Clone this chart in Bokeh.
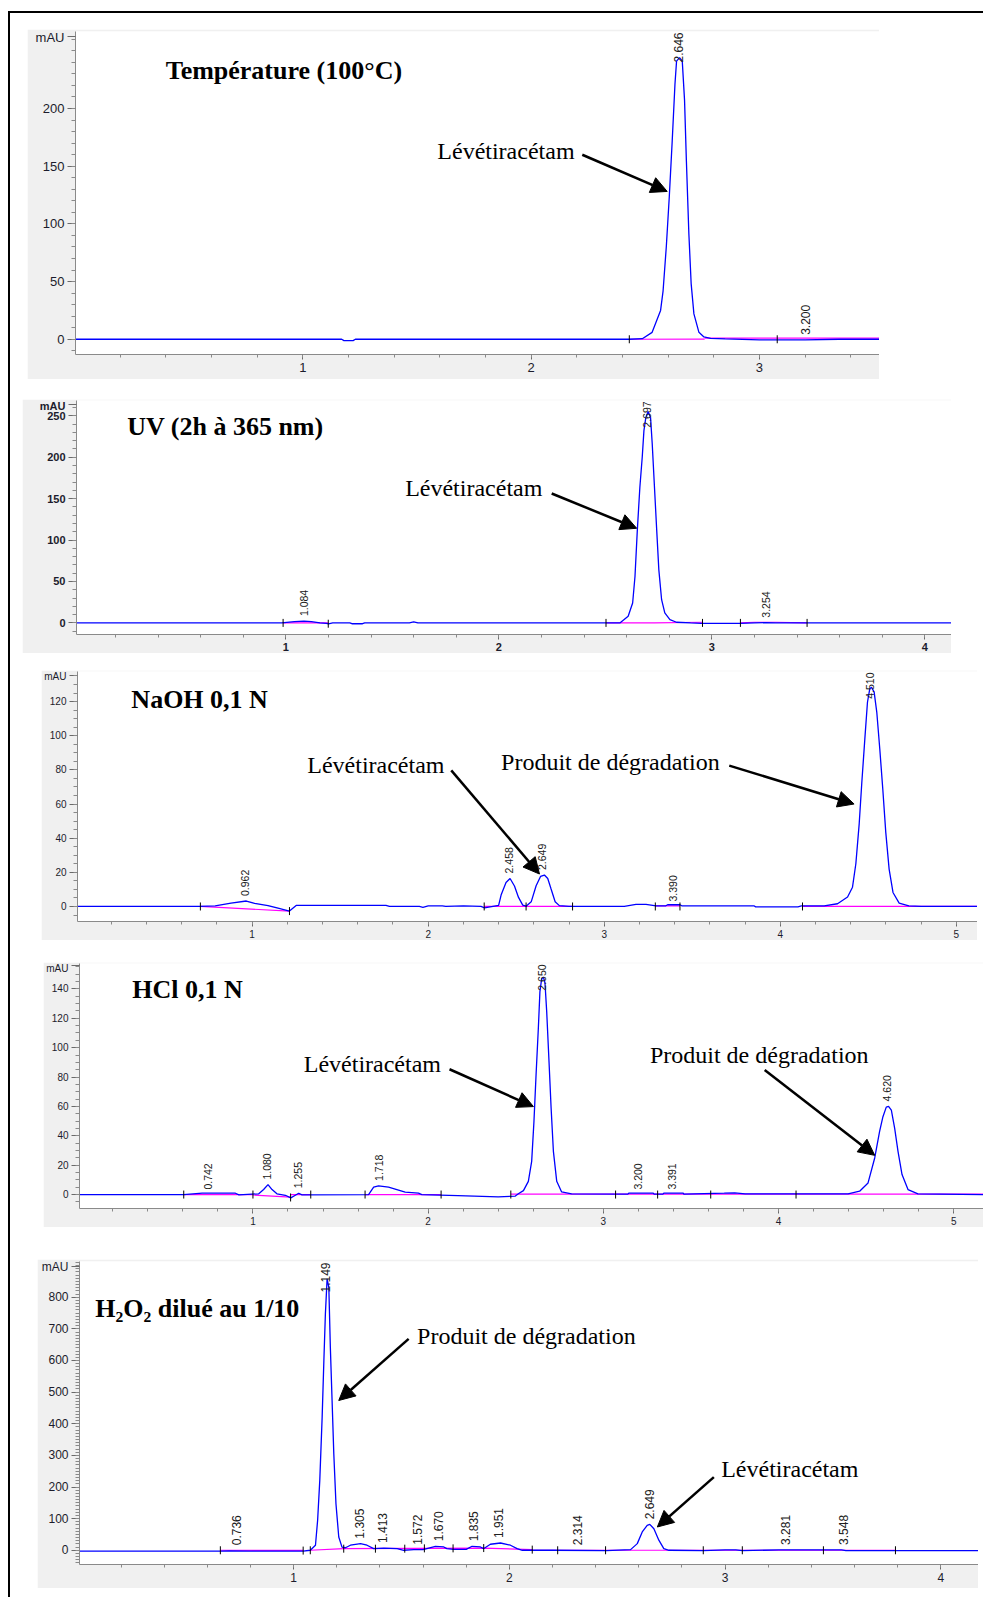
import numpy as np
from bokeh.plotting import figure
from bokeh.layouts import column
from bokeh.models import FixedTicker, Arrow, NormalHead, Range1d
from bokeh.core.properties import value
from bokeh.embed import file_html
from bokeh.resources import INLINE

# ---------------- DATA ----------------
titles = ["Température (100°C)", "UV (2h à 365 nm)", "NaOH 0,1 N", "HCl 0,1 N", "H₂O₂ dilué au 1/10"]
lev = "Lévétiracétam"
deg = "Produit de dégradation"

# Panel 1 : Température
temp_time = [0.0, 1.17, 1.18, 1.22, 1.23, 2.43, 2.487, 2.530, 2.567, 2.578, 2.592, 2.605, 2.618, 2.630,
             2.637, 2.650, 2.662, 2.672, 2.680, 2.691, 2.701, 2.713, 2.735, 2.757, 2.786, 2.85, 3.0, 3.2, 3.35, 3.53]
temp_mau = [0, 0, -1.2, -1.2, 0, 0, 0.5, 6, 25, 42, 80, 123, 172, 221, 241, 244, 241, 207, 155, 91, 48, 22,
            6, 2, 0.8, 0.3, -0.5, -0.5, 0, 0]
temp_base = [([2.43, 2.76], [0.0, 0.2]), ([2.76, 3.53], [1.0, 1.0])]
temp_events_t = [2.43, 3.078]
temp_events_y = [0, 0]
temp_peaks = ["2.646", "3.200"]

# Panel 2 : UV
uv_time = [0.015, 0.98, 1.04, 1.085, 1.12, 1.16, 1.19, 1.20, 1.22, 1.30, 1.31, 1.36, 1.37, 1.58, 1.60, 1.62,
           2.568, 2.607, 2.628, 2.639, 2.650, 2.662, 2.673, 2.681, 2.690, 2.701, 2.712, 2.720, 2.728, 2.741,
           2.751, 2.764, 2.779, 2.803, 2.834, 2.9, 2.95, 3.13, 3.2, 3.254, 3.3, 3.45, 4.125]
uv_mau = [0, 0, 1.5, 2.2, 1.5, 0, -0.5, -1.2, 0, 0, -1, -1, 0, 0, 1.2, 0,
          0, 8, 24, 56, 112, 164, 200, 232, 248, 255, 248, 216, 176, 112,
          64, 28, 12, 4, 0.8, 0, -0.5, -0.5, 0, 0.3, 0, 0, 0]
uv_base = [([0.987, 1.199], [0, 0]), ([2.503, 2.73, 2.956], [0, 0, 0.8]), ([3.134, 3.2, 3.3, 3.447], [0, 0.8, 0.8, 0])]
uv_events_t = [0.987, 1.199, 2.503, 2.956, 3.134, 3.447]
uv_events_y = [0, -1, 0, 0, 0, 0]
uv_peaks = ["1.084", "2.697", "3.254"]

# Panel 3 : NaOH
naoh_time = [0.008, 0.70, 0.79, 0.88, 0.967, 1.014, 1.09, 1.147, 1.212, 1.25, 1.76, 1.78, 1.95, 1.97, 2.0,
             2.08, 2.10, 2.2, 2.3, 2.32, 2.40, 2.414, 2.442, 2.465, 2.49, 2.513, 2.537, 2.556, 2.585, 2.613,
             2.638, 2.660, 2.679, 2.698, 2.721, 2.745, 2.80, 3.114, 3.18, 3.237, 3.294, 3.35, 3.36, 3.43, 3.44,
             3.85, 3.86, 4.10, 4.12, 4.249, 4.325, 4.382, 4.41, 4.429, 4.448, 4.463, 4.480, 4.495, 4.508,
             4.518, 4.533, 4.548, 4.565, 4.582, 4.599, 4.618, 4.64, 4.675, 4.73, 4.8, 5.0, 5.12]
naoh_mau = [0, 0, 0.3, 2, 3.2, 1.8, 0.5, -1, -2.7, 0.6, 0.6, 0, 0, -0.5, 0.3,
            0.3, 0, 0.3, 0, -0.8, 0.6, 6.7, 14, 16.4, 12, 5.3, 0.8, 0.2, 2.7, 12.1,
            17.6, 18.4, 16.4, 10.2, 2.8, 0.5, 0, 0, 1.2, 1.2, 0.4, 0.4, 1.0, 1.0, 0.4,
            0.4, -0.2, -0.2, 0.3, 0.3, 1.6, 5.5, 11.3, 25, 48.4, 72.7, 98, 119.6, 127.4,
            128.4, 125.5, 113.7, 92.2, 68.8, 43.4, 21.9, 8.2, 2, 0.3, 0, 0, 0]
naoh_base = [([0.706, 1.212], [0, -2.7]), ([2.318, 2.82], [0, 0]), ([3.29, 3.43], [0.3, 0.3]), ([4.126, 5.12], [0, 0])]
naoh_events_t = [0.706, 1.212, 2.318, 2.556, 2.82, 3.29, 3.43, 4.126]
naoh_events_y = [0, -2.7, 0, 0, 0, 0, 0, 0]
naoh_peaks = ["0.962", "2.458", "2.649", "3.390", "4.510"]

# Panel 4 : HCl
hcl_time = [0.01, 0.605, 0.71, 0.90, 0.92, 1.033, 1.061, 1.086, 1.109, 1.137, 1.185, 1.216, 1.242, 1.261,
            1.28, 1.66, 1.689, 1.717, 1.774, 1.831, 1.869, 1.945, 1.964, 2.17, 2.40, 2.496, 2.515, 2.544,
            2.572, 2.591, 2.604, 2.616, 2.629, 2.638, 2.648, 2.658, 2.667, 2.677, 2.69, 2.702, 2.715, 2.734,
            2.762, 2.819, 3.14, 3.145, 3.285, 3.29, 3.34, 3.345, 3.456, 3.46, 3.69, 3.75, 3.81, 4.10, 4.397,
            4.463, 4.511, 4.549, 4.577, 4.596, 4.615, 4.628, 4.644, 4.663, 4.682, 4.705, 4.739, 4.796, 5.17]
hcl_mau = [0, 0, 0.9, 0.9, -0.2, 0.5, 3.4, 6.8, 3.4, 0.5, -0.5, -2.3, -0.5, 0.9,
           -0.2, 0, 5, 5.9, 5, 3, 1.6, 0.9, 0, -0.7, -1.6, -1.1, 0.5, 2.7,
           9, 22.6, 49.7, 81.4, 113, 138, 147, 148, 144, 124, 90.4, 58.8, 29.4, 9,
           1.8, 0.5, 0.3, 0.9, 0.9, 0.3, 0.3, 0.9, 0.9, 0.3, 0.9, 1.1, 0.5, 0.5, 0.5,
           2.3, 7.9, 24.9, 43, 53, 59.5, 60, 57.5, 45, 29.4, 13.6, 3.4, 0.5, 0]
hcl_base = [([0.605, 1.0], [0, 0]), ([1.0, 1.215], [-0.3, -1.8]), ([1.215, 1.33], [0, 0]),
            ([1.64, 2.074], [0, 0]), ([2.472, 5.17], [0.3, 0.3])]
hcl_events_t = [0.605, 1.0, 1.215, 1.33, 1.64, 2.074, 2.472, 3.07, 3.31, 3.613, 4.10, 5.17]
hcl_events_y = [0, 0, -2, 0, 0, 0, 0, 0, 0, 0, 0, 0]
hcl_peaks = ["0.742", "1.080", "1.255", "1.718", "2.650", "3.200", "3.391", "4.620"]

# Panel 5 : H2O2
h2o2_time = [0.007, 0.66, 0.70, 0.80, 1.044, 1.077, 1.101, 1.111, 1.121, 1.132, 1.14, 1.147, 1.155, 1.163,
             1.170, 1.178, 1.186, 1.196, 1.209, 1.224, 1.24, 1.263, 1.31, 1.34, 1.371, 1.418, 1.48, 1.51,
             1.557, 1.60, 1.657, 1.696, 1.71, 1.74, 1.80, 1.827, 1.866, 1.88, 1.912, 1.959, 2.005, 2.036,
             2.06, 2.2, 2.45, 2.562, 2.593, 2.616, 2.639, 2.651, 2.67, 2.693, 2.716, 2.74, 2.9, 3.0, 3.05,
             3.08, 3.25, 3.3, 3.54, 3.56, 4.175]
h2o2_mau = [-3, -3, -2, -3, -3, 0, 15.8, 95, 221, 421, 600, 747, 858, 831,
            642, 474, 305, 147, 42, 10, 8, 16, 21, 16, 5, 7, 5, 0,
            2, 2, 12.6, 10.5, 5, 3, 3, 12.6, 10.5, 5, 19, 23, 16, 5,
            0, 0, -1, 2, 21, 58, 79, 82, 68, 32, 5, 0, -1, 1, 1,
            -1, 1, 1, 1, -1, -1]
h2o2_base = [([0.66, 1.044], [0, -0.5]), ([1.077, 1.232, 1.881, 2.106], [0, 5, 7, 2]), ([2.106, 3.79], [0, 0])]
h2o2_events_t = [0.66, 1.044, 1.077, 1.232, 1.379, 1.515, 1.606, 1.739, 1.881, 2.106, 2.224, 2.446,
                 2.899, 3.08, 3.456, 3.79]
h2o2_events_y = [0, -1, 0, 5, 5, 5, 6, 6, 7, 2, 0, 0, 0, 0, 0, 0]
h2o2_peaks = ["0.736", "1.149", "1.305", "1.413", "1.572", "1.670", "1.835", "1.951", "2.314", "2.649",
              "3.281", "3.548"]

# ---------------- LAYOUT / STYLE ----------------
SERIF = value("Liberation Serif")
SANS = "Liberation Sans"

panels = [
    dict(time=temp_time, mau=temp_mau, base=temp_base, ev_t=temp_events_t, ev_y=temp_events_y, peaks=temp_peaks,
         xr=(0.004, 3.526), yr=(-13.2, 266.7), yt=[0, 50, 100, 150, 200], ystep=10, mau_tick=262,
         xt=[1, 2, 3], w=852, h=350, bl=48, bt=2, bb=25, mt=16, ml=17, fs=13, lfs=12, bold=False,
         texts=[(titles[0], 0.399, 232.6, True), (lev, 1.589, 163.4, False)],
         arrows=[(2.224, 159.9, 2.596, 128.1)]),
    dict(time=uv_time, mau=uv_mau, base=uv_base, ev_t=uv_events_t, ev_y=uv_events_y, peaks=uv_peaks,
         xr=(0.017, 4.125), yr=(-14.0, 268.4), yt=[0, 50, 100, 150, 200, 250], ystep=10, mau_tick=264,
         xt=[1, 2, 3, 4], w=929, h=254, bl=54, bt=1, bb=18, mt=20, ml=12, fs=11, lfs=10.5, bold=True,
         texts=[(titles[1], 0.255, 237.1, True), (lev, 1.56, 162.6, False)],
         arrows=[(2.248, 156.2, 2.647, 114.2)]),
    dict(time=naoh_time, mau=naoh_mau, base=naoh_base, ev_t=naoh_events_t, ev_y=naoh_events_y, peaks=naoh_peaks,
         xr=(0.008, 5.12), yr=(-8.8, 137.6), yt=[0, 20, 40, 60, 80, 100, 120], ystep=5, mau_tick=135,
         xt=[1, 2, 3, 4, 5], w=936, h=270, bl=35, bt=1, bb=19, mt=17, ml=31, fs=10, lfs=10.5, bold=False,
         texts=[(titles[2], 0.314, 121.3, True), (lev, 1.313, 82.9, False), (deg, 2.414, 84.8, False)],
         arrows=[(2.131, 79.7, 2.632, 19.0), (3.71, 82.5, 4.419, 60.0)]),
    dict(time=hcl_time, mau=hcl_mau, base=hcl_base, ev_t=hcl_events_t, ev_y=hcl_events_y, peaks=hcl_peaks,
         xr=(0.01, 5.17), yr=(-9.5, 157.3), yt=[0, 20, 40, 60, 80, 100, 120, 140], ystep=5, mau_tick=156,
         xt=[1, 2, 3, 4, 5], w=940, h=265, bl=34, bt=1, bb=18, mt=22, ml=33, fs=10, lfs=10.5, bold=False,
         texts=[(titles[3], 0.311, 139.8, True), (lev, 1.29, 89.2, False), (deg, 3.266, 95.3, False)],
         arrows=[(2.122, 85.3, 2.601, 59.9), (3.921, 84.8, 4.549, 26.7)]),
    dict(time=h2o2_time, mau=h2o2_mau, base=h2o2_base, ev_t=h2o2_events_t, ev_y=h2o2_events_y, peaks=h2o2_peaks,
         xr=(0.007, 4.175), yr=(-45.0, 913.0), yt=[0, 100, 200, 300, 400, 500, 600, 700, 800], ystep=10,
         mau_tick=898, xt=[1, 2, 3, 4], w=941, h=329, bl=42, bt=2, bb=24, mt=32, ml=27, fs=12, lfs=12, bold=False,
         texts=[(titles[4], 0.080, 764.4, True), (deg, 1.572, 676.0, False), (lev, 2.982, 257.3, False)],
         arrows=[(1.533, 668.5, 1.209, 473.6), (2.948, 231.4, 2.686, 73.6)]),
]


def make_panel(c, last=False):
    p = figure(width=c["w"], height=c["h"], x_range=Range1d(*c["xr"]), y_range=Range1d(*c["yr"]),
               output_backend="svg", toolbar_location=None, frame_align=False,
               min_border_left=c["bl"], min_border_right=0, min_border_top=c["bt"], min_border_bottom=c["bb"],
               background_fill_color="white", border_fill_color="#f0f0f0", outline_line_color=None,
               margin=(c["mt"], 0, 9 if last else 0, c["ml"]))
    p.grid.visible = False

    # axes
    x0, x1 = c["xr"]
    xminor = [round(v, 1) for v in np.arange(0.2, x1 + 0.001, 0.2)]
    p.xaxis.ticker = FixedTicker(ticks=c["xt"], minor_ticks=xminor)
    y0, y1 = c["yr"]
    yminor = list(np.arange(np.ceil(y0 / c["ystep"]) * c["ystep"], y1, c["ystep"]))
    p.yaxis.ticker = FixedTicker(ticks=c["yt"] + [c["mau_tick"]], minor_ticks=yminor)
    p.yaxis.major_label_overrides = {c["mau_tick"]: "mAU"}
    for ax in (p.xaxis[0], p.yaxis[0]):
        ax.axis_line_color = "#8a8a8a"
        ax.major_tick_line_color = "#6a6a6a"
        ax.minor_tick_line_color = "#8a8a8a"
        ax.major_tick_in = 0
        ax.minor_tick_in = 0
        ax.major_label_text_font = SANS
        ax.major_label_text_font_size = f"{c['fs']}px"
        ax.major_label_text_font_style = "bold" if c["bold"] else "normal"
        ax.major_label_text_color = "#1c1c2c"
        ax.major_label_standoff = 3
    p.xaxis.major_tick_out = 5
    p.xaxis.minor_tick_out = 3
    p.yaxis.major_tick_out = 8
    p.yaxis.minor_tick_out = 4

    # integration baselines
    p.multi_line([b[0] for b in c["base"]], [b[1] for b in c["base"]], line_color="#ff00ff", line_width=1.2)
    # trace
    p.line(c["time"], c["mau"], line_color="#0000ff", line_width=1.3)
    # integration events
    p.scatter(c["ev_t"], c["ev_y"], marker="dash", angle=np.pi / 2, size=8, line_color="black", line_width=1)

    # peak labels
    fh = c["h"] - c["bt"] - c["bb"]
    upp = (y1 - y0) / fh
    t_arr = np.array(c["time"])
    m_arr = np.array(c["mau"])
    lx, ly = [], []
    for s in c["peaks"]:
        rt = float(s)
        sel = np.abs(t_arr - rt) <= 0.03
        apex = m_arr[sel].max() if sel.any() else 0.0
        length = c["lfs"] * (0.556 * 4 + 0.278)
        ya = apex + 5 * upp
        if ya + length * upp > y1:
            ya = y1 - (length + 1) * upp
        lx.append(rt)
        ly.append(ya)
    p.text(lx, ly, text=c["peaks"], angle=np.pi / 2, text_align="left", text_baseline="middle",
           text_font=value(SANS), text_font_size=f"{c['lfs']}px", text_color="#202020")

    # annotation texts
    for (txt, tx, ty, bold) in c["texts"]:
        p.text([tx], [ty], text=[txt], text_align="left", text_baseline="middle", text_font=SERIF,
               text_font_size="26px" if bold else "24px", text_font_style="bold" if bold else "normal",
               text_color="black")
    for (xs, ys, xe, ye) in c["arrows"]:
        p.add_layout(Arrow(end=NormalHead(size=16, fill_color="black", line_color="black", line_width=1),
                           x_start=xs, y_start=ys, x_end=xe, y_end=ye, line_color="black", line_width=2.5))
    return p


figs = [make_panel(c, last=(i == len(panels) - 1)) for i, c in enumerate(panels)]
page = column(children=figs, margin=(11, 0, 0, 8),
              styles={"border-top": "2px solid black", "border-left": "2px solid black"})

open("out.html", "w").write(file_html(page, INLINE))
